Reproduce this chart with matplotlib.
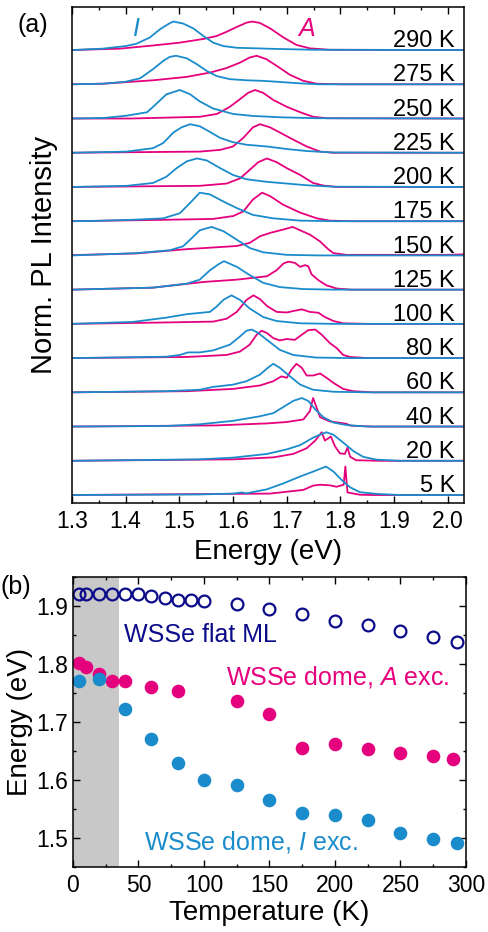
import matplotlib
matplotlib.use("Agg")
import matplotlib.pyplot as plt
from matplotlib.ticker import MultipleLocator

plt.rcParams["font.family"] = ["Liberation Sans", "DejaVu Sans"]
plt.rcParams["mathtext.fontset"] = "custom"
plt.rcParams["mathtext.rm"] = "Liberation Sans"
plt.rcParams["mathtext.it"] = "Liberation Sans:italic"

BLUE = "#1b8ccb"
PINK = "#e5007d"
NAVY = "#0c0c8a"

# ---- panel (a): normalized PL spectra, (energy eV, intensity)
temps = [5, 20, 40, 60, 80, 100, 125, 150, 175, 200, 225, 250, 275, 290]

I_5 = [(1.30, 0.0), (1.538, 0.02), (1.60, 0.05), (1.616, 0.09), (1.625, 0.06), (1.663, 0.2),
       (1.694, 0.41), (1.725, 0.65), (1.749, 0.82), (1.773, 1.0), (1.787, 0.82), (1.802, 0.53),
       (1.818, 0.27), (1.836, 0.1), (1.867, 0.04), (1.91, 0.0), (2.03, 0.0)]
A_5 = [(1.30, 0.0), (1.669, 0.05), (1.731, 0.18), (1.749, 0.33), (1.762, 0.36), (1.78, 0.34),
       (1.793, 0.29), (1.80, 0.33), (1.806, 0.36), (1.809, 1.0), (1.813, 0.09), (1.836, 0.01),
       (1.86, 0.0), (2.03, 0.0)]

I_20 = [(1.30, 0.0), (1.538, 0.05), (1.60, 0.11), (1.663, 0.24), (1.70, 0.4), (1.725, 0.55),
        (1.749, 0.81), (1.765, 0.94), (1.774, 1.0), (1.787, 0.91), (1.805, 0.64), (1.824, 0.34),
        (1.842, 0.14), (1.867, 0.04), (1.91, 0.0), (2.03, 0.0)]
A_20 = [(1.30, 0.0), (1.60, 0.05), (1.675, 0.12), (1.712, 0.24), (1.737, 0.44), (1.753, 0.71),
        (1.765, 1.0), (1.771, 0.71), (1.782, 0.85), (1.79, 0.5), (1.799, 0.26), (1.808, 0.24),
        (1.813, 0.46), (1.818, 0.14), (1.829, 0.02), (1.87, 0.0), (2.03, 0.0)]

I_40 = [(1.30, 0.0), (1.476, 0.02), (1.538, 0.08), (1.60, 0.2), (1.65, 0.36), (1.675, 0.47),
        (1.694, 0.69), (1.712, 0.9), (1.728, 1.0), (1.74, 0.9), (1.753, 0.6), (1.768, 0.33),
        (1.787, 0.14), (1.812, 0.05), (1.85, 0.0), (2.03, 0.0)]
A_40 = [(1.30, 0.0), (1.568, 0.04), (1.663, 0.11), (1.70, 0.16), (1.731, 0.25), (1.743, 0.54),
        (1.749, 1.0), (1.755, 0.69), (1.762, 0.33), (1.768, 0.28), (1.78, 0.18), (1.80, 0.13),
        (1.81, 0.1), (1.82, 0.03), (1.86, 0.0), (2.03, 0.0)]

I_60 = [(1.30, 0.0), (1.476, 0.04), (1.538, 0.09), (1.563, 0.19), (1.60, 0.27), (1.625, 0.39),
        (1.65, 0.62), (1.666, 0.88), (1.675, 1.0), (1.687, 0.86), (1.706, 0.56), (1.725, 0.27),
        (1.749, 0.09), (1.787, 0.02), (1.85, 0.0), (2.03, 0.0)]
A_60 = [(1.30, 0.0), (1.514, 0.04), (1.60, 0.12), (1.65, 0.24), (1.675, 0.39), (1.69, 0.56),
        (1.70, 0.51), (1.709, 0.8), (1.718, 1.0), (1.728, 0.86), (1.737, 0.59), (1.749, 0.59),
        (1.762, 0.66), (1.774, 0.51), (1.787, 0.33), (1.805, 0.12), (1.824, 0.04), (1.86, 0.0),
        (2.03, 0.0)]

I_80 = [(1.30, 0.0), (1.476, 0.05), (1.501, 0.11), (1.516, 0.2), (1.538, 0.2), (1.563, 0.27),
        (1.594, 0.47), (1.613, 0.76), (1.625, 0.96), (1.635, 1.0), (1.647, 0.88), (1.663, 0.64),
        (1.687, 0.29), (1.712, 0.11), (1.754, 0.02), (1.82, 0.0), (2.03, 0.0)]
A_80 = [(1.30, 0.0), (1.514, 0.04), (1.588, 0.11), (1.613, 0.23), (1.631, 0.47), (1.644, 0.82),
        (1.653, 0.96), (1.663, 0.88), (1.675, 0.7), (1.687, 0.62), (1.70, 0.67), (1.715, 0.64),
        (1.728, 0.82), (1.74, 0.98), (1.753, 1.0), (1.765, 0.82), (1.78, 0.53), (1.793, 0.35),
        (1.805, 0.11), (1.818, 0.04), (1.85, 0.0), (2.03, 0.0)]

I_100 = [(1.30, 0.0), (1.414, 0.07), (1.476, 0.22), (1.514, 0.34), (1.557, 0.42), (1.569, 0.6),
         (1.582, 0.84), (1.597, 1.0), (1.613, 0.84), (1.631, 0.54), (1.656, 0.24), (1.681, 0.1),
         (1.725, 0.02), (1.787, 0.0), (2.03, 0.0)]
A_100 = [(1.30, 0.0), (1.476, 0.05), (1.563, 0.08), (1.588, 0.18), (1.607, 0.42), (1.625, 0.84),
         (1.638, 1.0), (1.65, 0.87), (1.663, 0.63), (1.681, 0.42), (1.70, 0.4), (1.712, 0.45),
         (1.728, 0.51), (1.743, 0.42), (1.759, 0.39), (1.771, 0.24), (1.787, 0.1), (1.805, 0.02),
         (1.85, 0.0), (2.03, 0.0)]

I_125 = [(1.30, 0.0), (1.451, 0.07), (1.514, 0.21), (1.538, 0.35), (1.557, 0.68), (1.573, 0.89),
         (1.583, 1.0), (1.607, 0.8), (1.631, 0.51), (1.656, 0.24), (1.687, 0.09), (1.731, 0.02),
         (1.79, 0.0), (2.03, 0.0)]
A_125 = [(1.30, 0.0), (1.451, 0.07), (1.545, 0.27), (1.607, 0.35), (1.663, 0.47), (1.681, 0.68),
         (1.694, 0.92), (1.703, 0.98), (1.715, 0.94), (1.725, 0.8), (1.734, 0.86), (1.74, 0.82),
         (1.746, 0.54), (1.759, 0.33), (1.774, 0.15), (1.793, 0.04), (1.82, 0.0), (2.03, 0.0)]

I_150 = [(1.30, 0.0), (1.42, 0.08), (1.482, 0.18), (1.507, 0.32), (1.52, 0.55), (1.538, 0.88),
         (1.56, 1.0), (1.582, 0.85), (1.607, 0.55), (1.631, 0.26), (1.656, 0.11), (1.70, 0.02),
         (1.76, 0.0), (2.03, 0.0)]
A_150 = [(1.30, 0.01), (1.42, 0.07), (1.514, 0.22), (1.607, 0.33), (1.631, 0.44), (1.65, 0.67),
         (1.669, 0.79), (1.694, 0.91), (1.711, 1.0), (1.725, 0.88), (1.743, 0.73), (1.762, 0.49),
         (1.777, 0.22), (1.787, 0.08), (1.811, 0.02), (2.0, 0.02), (2.03, 0.04)]

I_175 = [(1.30, 0.0), (1.34, 0.01), (1.414, 0.05), (1.47, 0.1), (1.501, 0.28), (1.52, 0.64),
         (1.538, 1.0), (1.557, 0.94), (1.581, 0.7), (1.607, 0.46), (1.637, 0.22), (1.675, 0.1),
         (1.725, 0.02), (1.787, 0.0), (2.03, 0.0)]
A_175 = [(1.30, 0.0), (1.476, 0.05), (1.563, 0.08), (1.60, 0.18), (1.619, 0.34), (1.637, 0.76),
         (1.654, 1.0), (1.669, 0.88), (1.693, 0.58), (1.725, 0.3), (1.756, 0.1), (1.78, 0.02),
         (1.82, 0.0), (2.03, 0.0)]

I_200 = [(1.30, 0.0), (1.402, 0.04), (1.451, 0.14), (1.476, 0.36), (1.495, 0.66), (1.514, 0.9),
         (1.533, 1.0), (1.551, 0.93), (1.576, 0.66), (1.60, 0.42), (1.625, 0.27), (1.663, 0.18),
         (1.70, 0.12), (1.737, 0.06), (1.787, 0.01), (2.03, 0.0)]
A_200 = [(1.30, 0.0), (1.538, 0.04), (1.588, 0.12), (1.613, 0.3), (1.631, 0.6), (1.647, 0.87),
         (1.663, 1.0), (1.681, 0.87), (1.70, 0.66), (1.725, 0.42), (1.749, 0.14), (1.768, 0.05),
         (1.793, 0.0), (2.03, 0.0)]

I_225 = [(1.30, 0.0), (1.402, 0.04), (1.451, 0.16), (1.47, 0.34), (1.489, 0.71), (1.504, 0.89),
         (1.52, 1.0), (1.538, 0.93), (1.557, 0.73), (1.576, 0.52), (1.60, 0.37), (1.625, 0.28),
         (1.663, 0.22), (1.70, 0.13), (1.737, 0.06), (1.786, 0.01), (2.03, 0.0)]
A_225 = [(1.30, 0.0), (1.538, 0.04), (1.576, 0.1), (1.60, 0.22), (1.619, 0.52), (1.637, 0.89),
         (1.65, 1.0), (1.669, 0.89), (1.687, 0.71), (1.712, 0.46), (1.737, 0.22), (1.762, 0.04),
         (1.786, 0.0), (2.03, 0.0)]

I_250 = [(1.30, 0.0), (1.36, 0.02), (1.402, 0.1), (1.44, 0.22), (1.458, 0.53), (1.476, 0.85),
         (1.501, 1.0), (1.52, 0.85), (1.538, 0.6), (1.563, 0.35), (1.60, 0.16), (1.637, 0.09),
         (1.693, 0.04), (1.756, 0.01), (2.03, 0.0)]
A_250 = [(1.30, 0.0), (1.41, 0.0), (1.538, 0.06), (1.57, 0.16), (1.594, 0.41), (1.613, 0.68),
         (1.628, 0.9), (1.641, 1.0), (1.656, 0.9), (1.675, 0.65), (1.70, 0.41), (1.725, 0.22),
         (1.749, 0.06), (1.775, 0.01), (2.03, 0.0)]

I_275 = [(1.30, 0.0), (1.358, 0.02), (1.40, 0.09), (1.427, 0.21), (1.451, 0.53), (1.47, 0.82),
         (1.482, 0.96), (1.494, 1.0), (1.514, 0.91), (1.532, 0.71), (1.551, 0.47), (1.569, 0.29),
         (1.594, 0.18), (1.625, 0.14), (1.656, 0.12), (1.681, 0.09), (1.718, 0.04), (1.76, 0.0),
         (2.03, 0.0)]
A_275 = [(1.30, 0.0), (1.358, 0.02), (1.451, 0.14), (1.514, 0.26), (1.557, 0.41), (1.588, 0.57),
         (1.613, 0.76), (1.631, 0.94), (1.644, 1.0), (1.662, 0.88), (1.681, 0.65), (1.706, 0.33),
         (1.731, 0.12), (1.756, 0.02), (1.80, 0.0), (2.03, 0.0)]

I_290 = [(1.30, 0.0), (1.358, 0.05), (1.40, 0.14), (1.42, 0.22), (1.445, 0.44), (1.464, 0.73),
         (1.482, 0.94), (1.489, 1.0), (1.507, 0.93), (1.526, 0.76), (1.545, 0.49), (1.563, 0.26),
         (1.582, 0.14), (1.607, 0.08), (1.644, 0.06), (1.68, 0.04), (1.75, 0.01), (2.03, 0.0)]
A_290 = [(1.30, 0.0), (1.39, 0.05), (1.451, 0.16), (1.501, 0.26), (1.545, 0.39), (1.569, 0.49),
         (1.588, 0.64), (1.607, 0.81), (1.625, 0.96), (1.636, 1.0), (1.65, 0.95), (1.669, 0.76),
         (1.694, 0.44), (1.718, 0.18), (1.743, 0.06), (1.78, 0.01), (2.03, 0.0)]

i_spectra = [I_5, I_20, I_40, I_60, I_80, I_100, I_125, I_150, I_175, I_200, I_225, I_250, I_275, I_290]
a_spectra = [A_5, A_20, A_40, A_60, A_80, A_100, A_125, A_150, A_175, A_200, A_225, A_250, A_275, A_290]

# ---- panel (b): peak energies vs temperature
flat_T = [5, 10, 20, 30, 40, 50, 60, 70, 80, 90, 100, 125, 150, 175, 200, 225, 250, 275, 293]
flat_E = [1.921, 1.921, 1.921, 1.921, 1.921, 1.920, 1.918, 1.914, 1.911, 1.911, 1.909,
          1.903, 1.894, 1.887, 1.875, 1.867, 1.857, 1.847, 1.838]
domeA_T = [5, 10, 20, 30, 40, 60, 80, 125, 150, 175, 200, 225, 250, 275, 290]
domeA_E = [1.802, 1.795, 1.782, 1.770, 1.770, 1.761, 1.754, 1.737, 1.713, 1.655, 1.662,
           1.653, 1.646, 1.642, 1.637]
domeI_T = [5, 20, 40, 60, 80, 100, 125, 150, 175, 200, 225, 250, 275, 293]
domeI_E = [1.770, 1.774, 1.722, 1.671, 1.630, 1.600, 1.591, 1.565, 1.543, 1.539, 1.531,
           1.509, 1.499, 1.491]

STEP = 1.2

fig = plt.figure(figsize=(4.89, 9.32), dpi=100)
ax_a = fig.add_axes([0.147, 0.4603, 0.802, 0.5322])
ax_b = fig.add_axes([0.149, 0.0697, 0.804, 0.3112])

for k, (T, ispec, aspec) in enumerate(zip(temps, i_spectra, a_spectra)):
    off = k * STEP
    ae, ay = zip(*aspec)
    ie, iy = zip(*ispec)
    ax_a.plot(ae, [v + off for v in ay], color=PINK, lw=1.3)
    ax_a.plot(ie, [v + off for v in iy], color=BLUE, lw=1.3)
    ax_a.text(2.013, off + 0.1, f"{T} K", ha="right", va="baseline", fontsize=17)

top = (len(temps) - 1) * STEP
ax_a.text(1.419, top + 0.5, "I", color=BLUE, fontsize=18, style="italic", ha="center", va="baseline")
ax_a.text(1.736, top + 0.5, "A", color=PINK, fontsize=18, style="italic", ha="center", va="baseline")

ax_a.set_xlim(1.3, 2.03)
ax_a.set_ylim(-0.28, top + 1.51)
ax_a.set_yticks([])
ax_a.xaxis.set_major_locator(MultipleLocator(0.1))
ax_a.xaxis.set_minor_locator(MultipleLocator(0.05))
ax_a.set_xticks([1.3, 1.4, 1.5, 1.6, 1.7, 1.8, 1.9, 2.0])
ax_a.set_xticklabels(["1.3", "1.4", "1.5", "1.6", "1.7", "1.8", "1.9", "2.0"])
ax_a.tick_params(axis="x", which="both", direction="in", top=True, labelsize=16.5, pad=5)
ax_a.tick_params(axis="x", which="major", length=5, width=1)
ax_a.tick_params(axis="x", which="minor", length=2.5, width=1)
ax_a.set_xlabel("Energy (eV)", fontsize=20, labelpad=4)
ax_a.set_ylabel("Norm. PL Intensity", fontsize=21, labelpad=10)

ax_b.axvspan(0, 35, color="#c8c8c8", lw=0, zorder=0)
ax_b.plot(flat_T, flat_E, "o", mfc="none", mec=NAVY, mew=1.6, ms=8.5, clip_on=False)
ax_b.plot(domeA_T, domeA_E, "o", color=PINK, mec="none", ms=9.8, clip_on=False)
ax_b.plot(domeI_T, domeI_E, "o", color=BLUE, mec="none", ms=9.8, clip_on=False)

ax_b.text(39, 1.838, "WSSe flat ML", color=NAVY, fontsize=18, ha="left", va="baseline")
ax_b.text(287, 1.764, "WSSe dome, $A$ exc.", color=PINK, fontsize=18, ha="right", va="baseline")
ax_b.text(54, 1.481, "WSSe dome, $I$ exc.", color=BLUE, fontsize=18, ha="left", va="baseline")

ax_b.set_xlim(0, 300)
ax_b.set_ylim(1.45, 1.95)
ax_b.xaxis.set_major_locator(MultipleLocator(50))
ax_b.xaxis.set_minor_locator(MultipleLocator(25))
ax_b.set_yticks([1.5, 1.6, 1.7, 1.8, 1.9])
ax_b.set_yticklabels(["1.5", "1.6", "1.7", "1.8", "1.9"])
ax_b.yaxis.set_minor_locator(MultipleLocator(0.05))
ax_b.tick_params(which="both", direction="in", top=True, right=True, labelsize=16.5, width=1)
ax_b.tick_params(axis="x", pad=5)
ax_b.tick_params(which="major", length=5)
ax_b.tick_params(which="minor", length=2.5)
ax_b.set_xlabel("Temperature (K)", fontsize=20, labelpad=2)
ax_b.set_ylabel("Energy (eV)", fontsize=20, labelpad=2)

for ax in (ax_a, ax_b):
    for sp in ax.spines.values():
        sp.set_linewidth(1.1)

fig.text(0.035, 0.986, "(a)", fontsize=18, ha="left", va="top")
fig.text(0.0, 0.383, "(b)", fontsize=18, ha="left", va="top")

fig.savefig("out.png", dpi=100)
